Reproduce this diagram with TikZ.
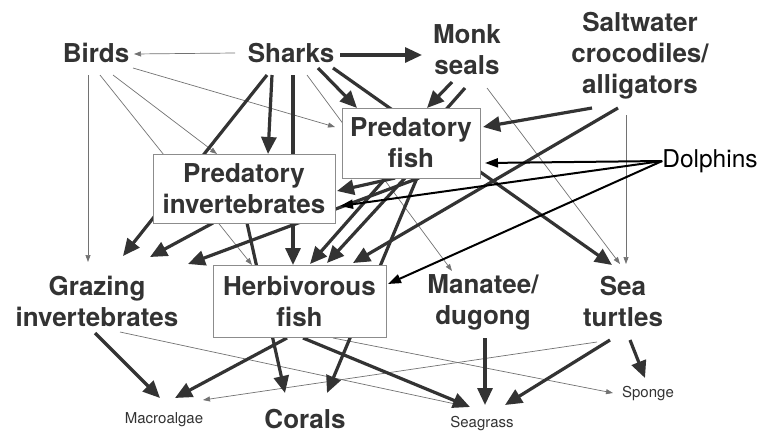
\documentclass[tikz,border=0pt]{standalone}
\usepackage{fontspec}
\setmainfont{TeX Gyre Heros}
\usetikzlibrary{arrows.meta,calc,backgrounds}
\definecolor{ink}{HTML}{333333}
\definecolor{thin}{HTML}{727272}
\definecolor{boxline}{HTML}{8C8C8C}

\begin{document}
\begin{tikzpicture}[x=1pt,y=-1pt,
  lbl/.style={font=\fontsize{26}{31}\selectfont\bfseries,text=ink,align=center,inner sep=0pt},
  sml/.style={font=\fontsize{15}{18}\selectfont,text=ink,inner sep=0pt},
  webbox/.style={lbl,draw=boxline,line width=0.8pt,fill=white},
  strong/.style={draw=ink,line width=3.2pt,-{Triangle[length=17pt,width=15pt]}},
  weak/.style={draw=thin,line width=0.7pt,-{Triangle[length=7pt,width=5pt]}},
  dolph/.style={draw=black,line width=2pt,-{Triangle[length=13pt,width=9pt]}}]
\useasboundingbox (0,0) rectangle (763,437);

\node[lbl] (birds) at (96,53) {Birds};
\node[lbl] (sharks) at (291,53) {Sharks};
\node[lbl] (seals) at (467,50) {Monk\\seals};
\node[lbl] (crocs) at (640,56) {Saltwater\\crocodiles/\\alligators};
\node[font=\fontsize{24.5}{29}\selectfont,inner sep=0pt] (dolphins) at (710,161) {Dolphins};
\node[webbox,minimum width=138pt,minimum height=70pt] (predfish) at (411,143) {Predatory\\fish};
\node[webbox,minimum width=182pt,minimum height=69pt] (predinv) at (244,188.5) {Predatory\\invertebrates};
\node[webbox,minimum width=173pt,minimum height=72pt] (herbfish) at (299.5,301) {Herbivorous\\fish};
\node[lbl] (grazing) at (97,301) {Grazing\\invertebrates};
\node[lbl] (manatee) at (483,302) {Manatee/\\dugong};
\node[lbl] (turtles) at (623,301) {Sea\\turtles};
\node[sml] (macroalgae) at (164,420) {Macroalgae};
\node[lbl] (corals) at (305,419) {Corals};
\node[sml] (seagrass) at (482,424) {Seagrass};
\node[sml] (sponge) at (648,394) {Sponge};

\begin{pgfonlayer}{background}
\draw[weak] ($(sharks)+(-56,0)$) -- ($(birds)+(38,1)$);
\draw[weak] ($(birds)+(37,15)$) -- ($(predfish)+(-76,-16)$);
\draw[weak] ($(birds)+(17,22)$) -- ($(predinv)+(-27,-34.5)$);
\draw[weak] ($(birds)+(4,22)$) -- ($(herbfish)+(-47.5,-36)$);
\draw[weak] ($(birds)+(-8,22)$) -- ($(grazing)+(-9,-39)$);
\draw[weak] ($(sharks)+(16,22)$) -- ($(manatee)+(-31,-31)$);
\draw[weak] ($(seals)+(20,38)$) -- ($(turtles)+(-3,-37)$);
\draw[weak] ($(crocs)+(-14,59)$) -- ($(turtles)+(3,-37)$);
\draw[weak] ($(grazing)+(23,31)$) -- ($(seagrass)+(-22,-19)$);
\draw[weak] ($(herbfish)+(33.5,37)$) -- ($(sponge)+(-35,-1)$);
\draw[weak] ($(turtles)+(-26,41)$) -- ($(macroalgae)+(39,-20)$);

\draw[strong] ($(sharks)+(49,2)$) -- ($(seals)+(-45,5)$);
\draw[strong] ($(sharks)+(27,15)$) -- ($(predfish)+(-54,-35)$);
\draw[strong] ($(sharks)+(42,15)$) -- ($(turtles)+(-11,-36)$);
\draw[strong] ($(sharks)+(-19,22)$) -- ($(predinv)+(24,-34.5)$);
\draw[strong] ($(sharks)+(2,22)$) -- ($(herbfish)+(-6.5,-36)$);
\draw[strong] ($(sharks)+(-24,22)$) -- ($(grazing)+(26,-45)$);
\draw[strong] ($(seals)+(-15,32)$) -- ($(predfish)+(16,-35)$);
\draw[strong] ($(seals)+(-2,38)$) -- ($(herbfish)+(10.5,-37)$);
\draw[strong] ($(crocs)+(-48,52)$) -- ($(predfish)+(72,-16)$);
\draw[strong] ($(crocs)+(-22,52)$) -- ($(herbfish)+(53.5,-38)$);
\draw[strong] ($(predfish)+(-16,35)$) -- ($(predinv)+(93,2.5)$);
\draw[strong] ($(predfish)+(8,35)$) -- ($(grazing)+(91,-37)$);
\draw[strong] ($(predfish)+(-6,35)$) -- ($(herbfish)+(27.5,-38)$);
\draw[strong] ($(predfish)+(6,35)$) -- ($(corals)+(22,-26)$);
\draw[strong] ($(predinv)+(-31,34.5)$) -- ($(grazing)+(53,-44)$);
\draw[strong] ($(predinv)+(3,34.5)$) -- ($(corals)+(-20,-26)$);
\draw[strong] ($(grazing)+(-2,32)$) -- ($(macroalgae)+(-4,-22)$);
\draw[strong] ($(herbfish)+(-12.5,37)$) -- ($(macroalgae)+(11,-22)$);
\draw[strong] ($(herbfish)+(3.5,37)$) -- ($(seagrass)+(-12,-17)$);
\draw[strong] ($(manatee)+(2,36)$) -- ($(seagrass)+(3,-19)$);
\draw[strong] ($(turtles)+(-13,39)$) -- ($(seagrass)+(23,-19)$);
\draw[strong] ($(turtles)+(7,39)$) -- ($(sponge)+(-3,-16)$);

\draw[dolph] (dolphins.west) -- ($(predfish)+(74,20)$);
\draw[dolph] (dolphins.west) -- ($(predinv)+(96,17.5)$);
\draw[dolph] (dolphins.west) -- ($(herbfish)+(88.5,-17)$);
\end{pgfonlayer}
\end{tikzpicture}
\end{document}
